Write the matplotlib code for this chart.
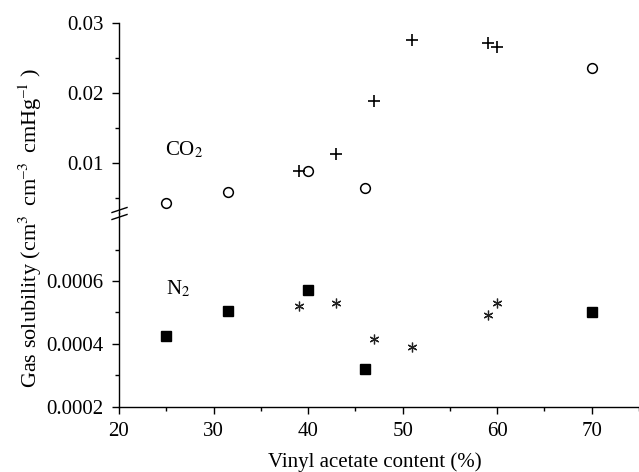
import matplotlib
matplotlib.use("Agg")
import matplotlib.pyplot as plt

plt.rcParams['font.family'] = ['Liberation Serif', 'DejaVu Serif']
plt.rcParams['mathtext.fontset'] = 'stix'

# CO2 solubility (upper panel)
co2_circ_x = [25, 31.5, 40, 46, 70]
co2_circ_y = [0.0043, 0.0059, 0.0089, 0.0065, 0.0235]
co2_plus_x = [39, 43, 47, 51, 59, 60]
co2_plus_y = [0.0089, 0.0113, 0.0189, 0.0276, 0.0272, 0.0265]

# N2 solubility (lower panel)
n2_sq_x = [25, 31.5, 40, 46, 70]
n2_sq_y = [0.000424, 0.000504, 0.000571, 0.000319, 0.0005]
n2_star_x = [39, 43, 47, 51, 59, 60]
n2_star_y = [0.000521, 0.000531, 0.000416, 0.00039, 0.000492, 0.000531]

W, H = 639, 472
fig = plt.figure(figsize=(W / 100, H / 100), dpi=100)

left = 119 / W
width = (W - 119) / W
brk = 213
ax_top = fig.add_axes([left, 1 - brk / H, width, (brk - 23) / H])
ax_bot = fig.add_axes([left, 1 - 406.7 / H, width, (406.7 - brk) / H])

for ax in (ax_top, ax_bot):
    ax.set_xlim(20, 75)
    ax.spines['top'].set_visible(False)
    ax.spines['right'].set_visible(False)
    for s in ax.spines.values():
        s.set_linewidth(1.0)
    ax.tick_params(which='major', direction='out', length=5, width=1.0,
                   labelsize=15, pad=6)
    ax.tick_params(which='minor', direction='out', length=3, width=1.0)
    ax.patch.set_visible(False)

ax_top.spines['bottom'].set_visible(False)
ax_top.tick_params(axis='x', which='both', bottom=False, labelbottom=False)
ax_top.set_ylim(0.01 - 50 / 7000, 0.03)
ax_top.set_yticks([0.01, 0.02, 0.03])
ax_top.set_yticklabels(['0.01', '0.02', '0.03'])
ax_top.set_yticks([0.005, 0.015, 0.025], minor=True)

ax_bot.set_ylim(0.0002, 0.0002 + (406.7 - brk) / 314250)
ax_bot.set_yticks([0.0002, 0.0004, 0.0006])
ax_bot.set_yticklabels(['0.0002', '0.0004', '0.0006'])
ax_bot.set_yticks([0.0003, 0.0005, 0.0007], minor=True)
ax_bot.set_xticks([20, 30, 40, 50, 60, 70])
ax_bot.set_xticks([25, 35, 45, 55, 65, 75], minor=True)

ax_top.plot(co2_circ_x, co2_circ_y, 'o', ms=7, mfc='white', mec='black',
            mew=1.1, clip_on=False)
ax_top.plot(co2_plus_x, co2_plus_y, '+', ms=9, mec='black', mew=1.2,
            clip_on=False)
ax_bot.plot(n2_sq_x, n2_sq_y, 's', ms=6.5, mfc='black', mec='black',
            clip_on=False)
ax_bot.plot(n2_star_x, n2_star_y, marker=(6, 2, 0), ls='none', ms=7,
            mec='#222222', mew=0.9, clip_on=False)

ax_top.text(24.86, 0.0111, 'CO$_2$', fontsize=15, va='baseline', ha='left')
ax_bot.text(25.0, 0.000559, 'N$_2$', fontsize=15, va='baseline', ha='left')

# break marks on the y axis
for yy in (210, 217):
    fig.add_artist(plt.Line2D([112 / W, 127 / W],
                              [1 - (yy + 2.5) / H, 1 - (yy - 2.5) / H],
                              color='black', lw=1.0))

fig.text(30 / W, 1 - 228 / H,
         'Gas solubility (cm$^{3}\\;\\;$cm$^{\u2013 3}\\;\\;$cmHg$^{\u2013 1}\\;$)',
         rotation=90, fontsize=16, ha='center', va='center')
fig.text(375 / W, 1 - 462 / H, 'Vinyl acetate content (%)',
         fontsize=15, ha='center', va='center')

fig.savefig('out.png', dpi=100)
